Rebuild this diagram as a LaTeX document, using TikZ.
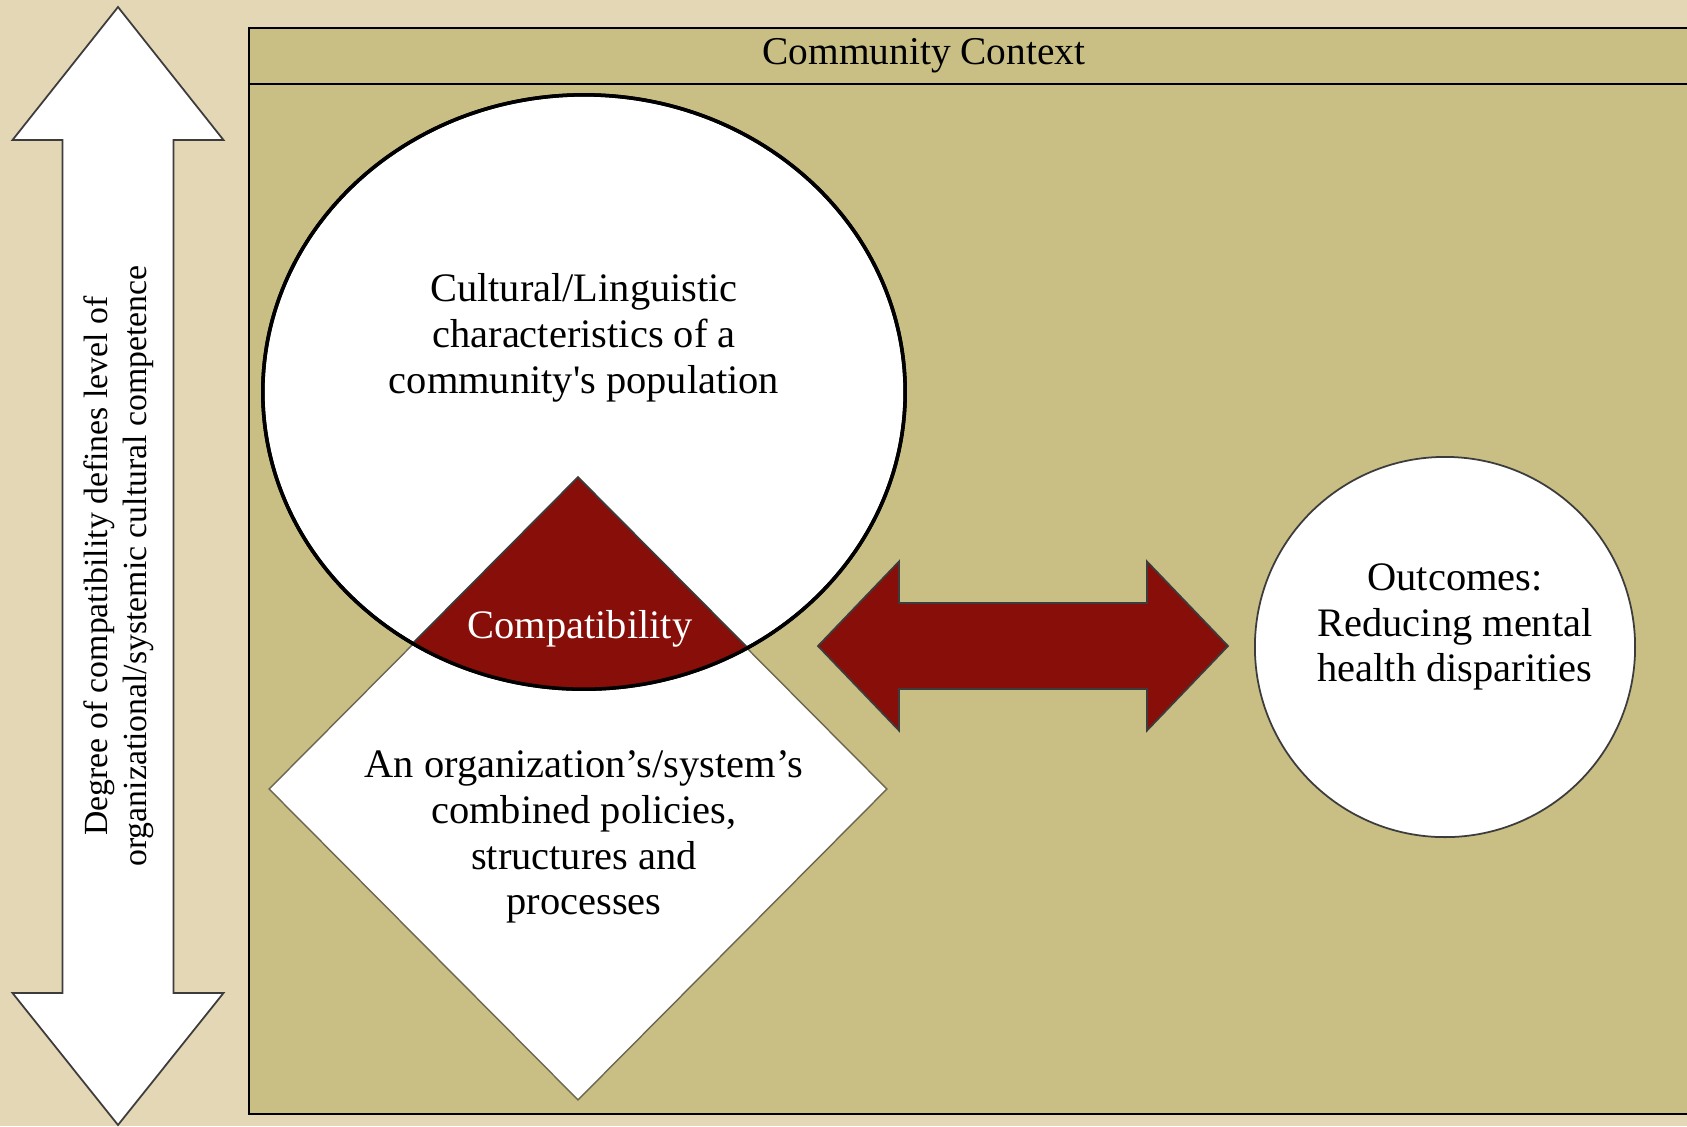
\documentclass[tikz,border=0pt]{standalone}
\usepackage{fontspec}
\setmainfont{Liberation Serif}
\usetikzlibrary{shapes.geometric}

\definecolor{pagebg}{HTML}{E3D7B5}
\definecolor{ctxfill}{HTML}{C9BF84}
\definecolor{compatred}{HTML}{880E09}
\definecolor{edgegray}{HTML}{3C3C3C}
\definecolor{olivedge}{HTML}{6B6750}

\begin{document}
\begin{tikzpicture}[x=0.01cm,y=-0.01cm,
	lbl/.style={align=center,font=\fontsize{11.5}{13}\selectfont},
	sidelbl/.style={align=center,rotate=90,font=\fontsize{9.6}{11}\selectfont},
	bigarrow/.style={draw=edgegray,line width=0.5pt,line join=miter}]
	
	\useasboundingbox (0,0) rectangle (1687,1126);
	\fill[pagebg] (0,0) rectangle (1687,1126);
	
	% community context frame
	\draw[fill=ctxfill,line width=0.6pt] (249,28) rectangle (1695,1114);
	\draw[line width=0.6pt] (249,84) -- (1695,84);
	\node[font=\fontsize{11.2}{13}\selectfont] (ctx) at (924,56) {Community Context};
	
	% side arrow
	\coordinate (ttip) at (118,7);
	\coordinate (btip) at (118,1125);
	\draw[bigarrow,fill=white] (ttip) -- ++(105.5,133) -- ++(-50,0) -- ++(0,853) -- ++(50,0)
		-- (btip) -- ++(-105.5,-132) -- ++(50,0) -- ++(0,-853) -- ++(-50,0) -- cycle;
	\node[sidelbl] (scale) at (118.5,566) {Degree of compatibility defines level of\\organizational/systemic cultural competence};
	
	% population and organization
	\node[shape=diamond,draw=olivedge,fill=white,line width=0.4pt,inner sep=0pt,
		minimum width=6.18cm,minimum height=6.22cm] (org) at (578,789) {};
	\node[shape=ellipse,draw=black,fill=white,line width=1pt,inner sep=0pt,
		minimum width=6.42cm,minimum height=5.94cm] (pop) at (584,392) {};
	
	\begin{scope}
		\clip (org.north) -- (org.east) -- (org.south) -- (org.west) -- cycle;
		\fill[compatred] (pop.center) ellipse [x radius=3.21cm,y radius=2.97cm];
	\end{scope}
	\begin{scope}
		\clip (pop.center) ellipse [x radius=3.21cm,y radius=2.97cm];
		\draw[edgegray,line width=0.5pt] (org.west) -- (org.north) -- (org.east);
	\end{scope}
	\draw[line width=1pt] (pop.center) ellipse [x radius=3.21cm,y radius=2.97cm];
	
	\node[lbl] (poptext) at (584,338) {Cultural/Linguistic\\characteristics of a\\community\textquotesingle s population};
	\node[lbl] (orgtext) at (584,837) {An organization's/system's\\combined policies,\\structures and\\processes};
	\node[lbl,text=white] (compat) at (580,629) {Compatibility};
	
	% outcomes
	\node[shape=circle,draw=edgegray,fill=white,line width=0.5pt,inner sep=0pt,
		minimum size=3.8cm] (out) at (1445,647) {};
	\node[lbl] (outtext) at (1455,627) {Outcomes:\\Reducing mental\\health disparities};
	
	\coordinate (ltip) at (818,646);
	\coordinate (rtip) at (1228,646);
	\draw[bigarrow,fill=compatred] (ltip) -- ++(81,-84.5) -- ++(0,41.5) -- ++(248,0) -- ++(0,-41.5)
		-- (rtip) -- ++(-81,84.5) -- ++(0,-41.5) -- ++(-248,0) -- ++(0,41.5) -- cycle;
	
\end{tikzpicture}
\end{document}
